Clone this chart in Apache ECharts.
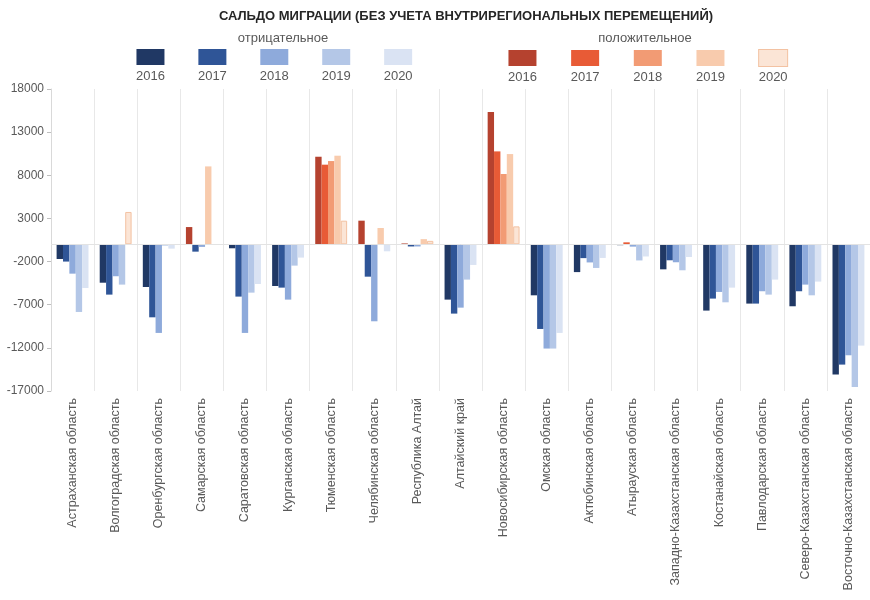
<!DOCTYPE html>
<html><head><meta charset="utf-8">
<script src="https://cdn.jsdelivr.net/npm/echarts@6/dist/echarts.min.js"></script>
<style>html,body{margin:0;padding:0;background:#fff}#c{width:870px;height:600px}</style>
</head><body><div id="c"></div>
<script>
const categories = ['Астраханская область','Волгоградская область','Оренбургская область','Самарская область','Саратовская область','Курганская область','Тюменская область','Челябинская область','Республика Алтай','Алтайский край','Новосибирская область','Омская область','Актюбинская область','Атырауская область','Западно-Казахстанская область','Костанайская область','Павлодарская область','Северо-Казахстанская область','Восточно-Казахстанская область'];
const years = ['2016','2017','2018','2019','2020'];
const v2016 = [-1700, -4450, -4950, 2000, -460, -4830, 10150, 2740, 100, -6410, 15330, -5910, -3220, -100, -2900, -7680, -6870, -7180, -15100];
const v2017 = [-2000, -5830, -8460, -850, -6060, -5020, 9230, -3750, -250, -8030, 10770, -9810, -1600, 230, -1850, -6290, -6870, -5440, -13940];
const v2018 = [-3400, -3700, -10270, -300, -10270, -6410, 9650, -8920, -250, -7340, 8150, -12080, -2100, -270, -2080, -5520, -5440, -4670, -12860];
const v2019 = [-7840, -4670, -150, 9030, -5600, -2470, 10270, 1890, 600, -4090, 10460, -12080, -2740, -1870, -3010, -6720, -5830, -5910, -16530];
const v2020 = [-5060, 3750, -500, 0, -4600, -1540, 2740, -810, 400, -2390, 2080, -10270, -1580, -1410, -1470, -5020, -4090, -4320, -11740];
const yTicks = [-17000, -12000, -7000, -2000, 3000, 8000, 13000, 18000];
const negColors = ['#203864', '#2f5597', '#8eaadb', '#b4c7e7', '#dae3f3'];
const posColors = ['#b5422f', '#e85b36', '#f29b74', '#f8cbad', '#fbe5d6'];
const negLabel = 'отрицательное';
const posLabel = 'положительное';

const values = [v2016, v2017, v2018, v2019, v2020];
const font = 'Liberation Sans, Arial, sans-serif';
const series = [];
years.forEach((y, i) => {
  series.push({
    name: negLabel + ' ' + y, type: 'bar', stack: 's' + y,
    data: values[i].map(v => v < 0 ? v : '-'),
    itemStyle: { color: negColors[i] },
    barGap: '0%', barCategoryGap: '26%'
  });
});
years.forEach((y, i) => {
  const s = {
    name: posLabel + ' ' + y, type: 'bar', stack: 's' + y,
    data: values[i].map(v => v > 0 ? v : '-'),
    itemStyle: { color: posColors[i] },
    barGap: '0%', barCategoryGap: '26%'
  };
  if (i === 4) { s.itemStyle.borderColor = '#f3c2a2'; s.itemStyle.borderWidth = 1; }
  series.push(s);
});
series[0].markLine = {
  silent: true, symbol: 'none', label: { show: false },
  lineStyle: { color: '#e3e3e3', type: 'solid', width: 1 },
  data: [{ yAxis: 0 }]
};

function legendRich(colors, bordered) {
  const r = { y: { fontFamily: font, fontSize: 13, color: '#595959', align: 'center', padding: [5, 0, 0, 0] } };
  colors.forEach((c, i) => {
    r['c' + i] = { width: 28, height: 16, backgroundColor: c, align: 'center' };
    if (bordered && i === 4) { r['c' + i].borderColor = '#f3c2a2'; r['c' + i].borderWidth = 1; }
  });
  return r;
}
function legendFmt(name) {
  const y = name.slice(-4);
  return '{c' + years.indexOf(y) + '|}\n{y|' + y + '}';
}

const option = {
  animation: false,
  textStyle: { fontFamily: font },
  title: [
    { text: 'САЛЬДО МИГРАЦИИ (БЕЗ УЧЕТА ВНУТРИРЕГИОНАЛЬНЫХ ПЕРЕМЕЩЕНИЙ)', left: 461, top: 5, textAlign: 'center',
      textStyle: { fontFamily: 'Liberation Sans Narrow, Arial Narrow, sans-serif', fontSize: 13, fontWeight: 'bold', color: '#262626' } },
    { text: negLabel, left: 278, top: 27, textAlign: 'center', textStyle: { fontFamily: font, fontSize: 13, fontWeight: 'normal', color: '#595959' } },
    { text: posLabel, left: 640, top: 27, textAlign: 'center', textStyle: { fontFamily: font, fontSize: 13, fontWeight: 'normal', color: '#595959' } }
  ],
  legend: [
    { data: years.map(y => negLabel + ' ' + y), left: 125, top: 44, icon: 'none', itemWidth: 1, itemHeight: 1, itemGap: 27,
      formatter: legendFmt, textStyle: { rich: legendRich(negColors, false) } },
    { data: years.map(y => posLabel + ' ' + y), left: 497, top: 44, icon: 'none', itemWidth: 1, itemHeight: 1, itemGap: 27.75,
      formatter: legendFmt, textStyle: { rich: legendRich(posColors, true) } }
  ],
  grid: { left: 51, right: -2, top: 89, bottom: 209, containLabel: false },
  xAxis: {
    type: 'category', data: categories,
    axisLine: { show: false, onZero: false },
    axisTick: { show: false },
    splitLine: { show: true, interval: 0, lineStyle: { color: '#e8e8e8', width: 1 } },
    axisLabel: { rotate: 90, interval: 0, fontSize: 12.5, color: '#595959', margin: 7, fontFamily: font }
  },
  yAxis: {
    type: 'value', min: -17000, max: 18000,
    axisLine: { show: true, lineStyle: { color: '#d9d9d9' } },
    axisTick: { show: true, length: 4, lineStyle: { color: '#bfbfbf' }, customValues: yTicks },
    splitLine: { show: false },
    axisLabel: { fontSize: 12, color: '#595959', margin: 7, fontFamily: font, customValues: yTicks, formatter: v => String(v) }
  },
  series: series
};
echarts.init(document.getElementById('c')).setOption(option);
</script>
</body></html>
